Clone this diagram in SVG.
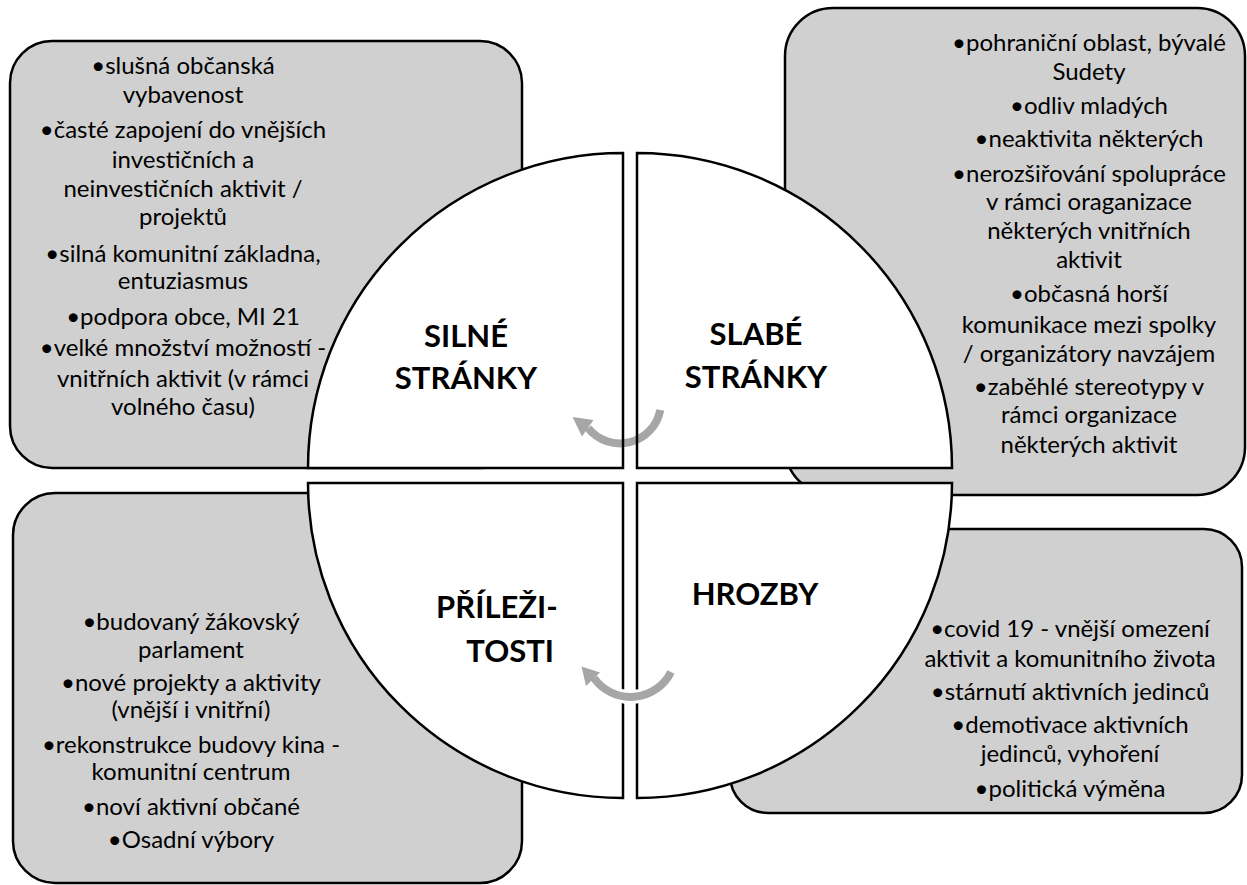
<svg xmlns="http://www.w3.org/2000/svg" width="1247" height="885" viewBox="0 0 1247 885">
<style>
.box{fill:#d0d0d0;stroke:#000;stroke-width:2.5}
.qf{fill:#fff;stroke:none}
.qs{fill:none;stroke:#000;stroke-width:2.5;stroke-linejoin:miter}
.t{font-family:Lato,"Liberation Sans",sans-serif;font-size:24px;fill:#000;text-anchor:middle}
.h{font-family:Lato,"Liberation Sans",sans-serif;font-size:31px;font-weight:bold;fill:#000;text-anchor:middle}
.arc{fill:none;stroke:#a6a6a6;stroke-width:8}
.ah{fill:#a6a6a6}
</style>
<rect width="1247" height="885" fill="#fff"/>
<g id="box-tl"><rect class="box" x="10" y="41" width="512" height="427" rx="42"/></g>
<g id="box-tr"><rect class="box" x="785" y="8" width="460" height="487" rx="48"/></g>
<g id="box-bl"><rect class="box" x="13" y="493" width="509" height="390" rx="42"/></g>
<g id="box-br"><rect class="box" x="730" y="529" width="512" height="284" rx="38"/></g>
<g id="quarter-fills">
<path class="qf" d="M623,468 L308,468 A315,315 0 0 1 623,153 Z"/>
<path class="qf" d="M637,468 L637,153 A315,315 0 0 1 952,468 Z"/>
<path class="qf" d="M637,483 L952,483 A315,315 0 0 1 637,798 Z"/>
<path class="qf" d="M623,483 L623,798 A315,315 0 0 1 308,483 Z"/>
</g>
<g id="connectors">
<g id="arrow-top">
<path class="arc" d="M660.3,410 A41,41 0 0 1 588,428"/>
<polygon class="ah" points="593.5,420 582,436.5 572.5,417"/>
</g>
</g>
<g id="quarter-strokes">
<path class="qs" d="M623,468 L308,468 A315,315 0 0 1 623,153 Z"/>
<path class="qs" d="M637,468 L637,153 A315,315 0 0 1 952,468 Z"/>
<path class="qs" d="M637,483 L952,483 A315,315 0 0 1 637,798 Z"/>
<path class="qs" d="M623,483 L623,798 A315,315 0 0 1 308,483 Z"/>
</g>
<g id="connectors2">
<g id="arrow-bottom">
<path d="M671,672 A45,45 0 0 1 594,678" fill="none" stroke="#fff" stroke-width="14"/>
<path class="arc" d="M671,672 A45,45 0 0 1 594,678"/>
<polygon class="ah" points="600,672.5 586,686 581.5,666.5"/>
</g>
</g>
<g id="node-silne">
<text class="h" x="466" y="347">SILNÉ</text>
<text class="h" x="466" y="389">STRÁNKY</text>
<text class="t" x="183" y="74">•slušná občanská</text>
<text class="t" x="183" y="103">vybavenost</text>
<text class="t" x="183" y="138">•časté zapojení do vnějších</text>
<text class="t" x="183" y="168">investičních a</text>
<text class="t" x="183" y="197">neinvestičních aktivit /</text>
<text class="t" x="183" y="225">projektů</text>
<text class="t" x="183" y="262">•silná komunitní základna,</text>
<text class="t" x="183" y="289">entuziasmus</text>
<text class="t" x="183" y="325">•podpora obce, MI 21</text>
<text class="t" x="183" y="356">•velké množství možností -</text>
<text class="t" x="183" y="387">vnitřních aktivit (v rámci</text>
<text class="t" x="183" y="415">volného času)</text>
</g>
<g id="node-slabe">
<text class="h" x="756" y="345">SLABÉ</text>
<text class="h" x="756" y="388">STRÁNKY</text>
<text class="t" x="1089" y="51">•pohraniční oblast, bývalé</text>
<text class="t" x="1089" y="80">Sudety</text>
<text class="t" x="1089" y="114">•odliv mladých</text>
<text class="t" x="1089" y="147">•neaktivita některých</text>
<text class="t" x="1089" y="182">•nerozšiřování spolupráce</text>
<text class="t" x="1089" y="210">v rámci oraganizace</text>
<text class="t" x="1089" y="239">některých vnitřních</text>
<text class="t" x="1089" y="268">aktivit</text>
<text class="t" x="1089" y="302">•občasná horší</text>
<text class="t" x="1089" y="333">komunikace mezi spolky</text>
<text class="t" x="1089" y="362">/ organizátory navzájem</text>
<text class="t" x="1089" y="395">•zaběhlé stereotypy v</text>
<text class="t" x="1089" y="423">rámci organizace</text>
<text class="t" x="1089" y="453">některých aktivit</text>
</g>
<g id="node-prilezitosti">
<text class="h" x="497" y="618">PŘÍLEŽI-</text>
<text class="h" x="554" y="662" style="text-anchor:end">TOSTI</text>
<text class="t" x="191" y="630">•budovaný žákovský</text>
<text class="t" x="191" y="658">parlament</text>
<text class="t" x="191" y="691">•nové projekty a aktivity</text>
<text class="t" x="191" y="718">(vnější i vnitřní)</text>
<text class="t" x="191" y="753">•rekonstrukce budovy kina -</text>
<text class="t" x="191" y="780">komunitní centrum</text>
<text class="t" x="191" y="815">•noví aktivní občané</text>
<text class="t" x="191" y="848">•Osadní výbory</text>
</g>
<g id="node-hrozby">
<text class="h" x="755" y="605">HROZBY</text>
<text class="t" x="1070" y="637">•covid 19 - vnější omezení</text>
<text class="t" x="1070" y="667">aktivit a komunitního života</text>
<text class="t" x="1070" y="700">•stárnutí aktivních jedinců</text>
<text class="t" x="1070" y="733">•demotivace aktivních</text>
<text class="t" x="1070" y="762">jedinců, vyhoření</text>
<text class="t" x="1070" y="797">•politická výměna</text>
</g>
</svg>
